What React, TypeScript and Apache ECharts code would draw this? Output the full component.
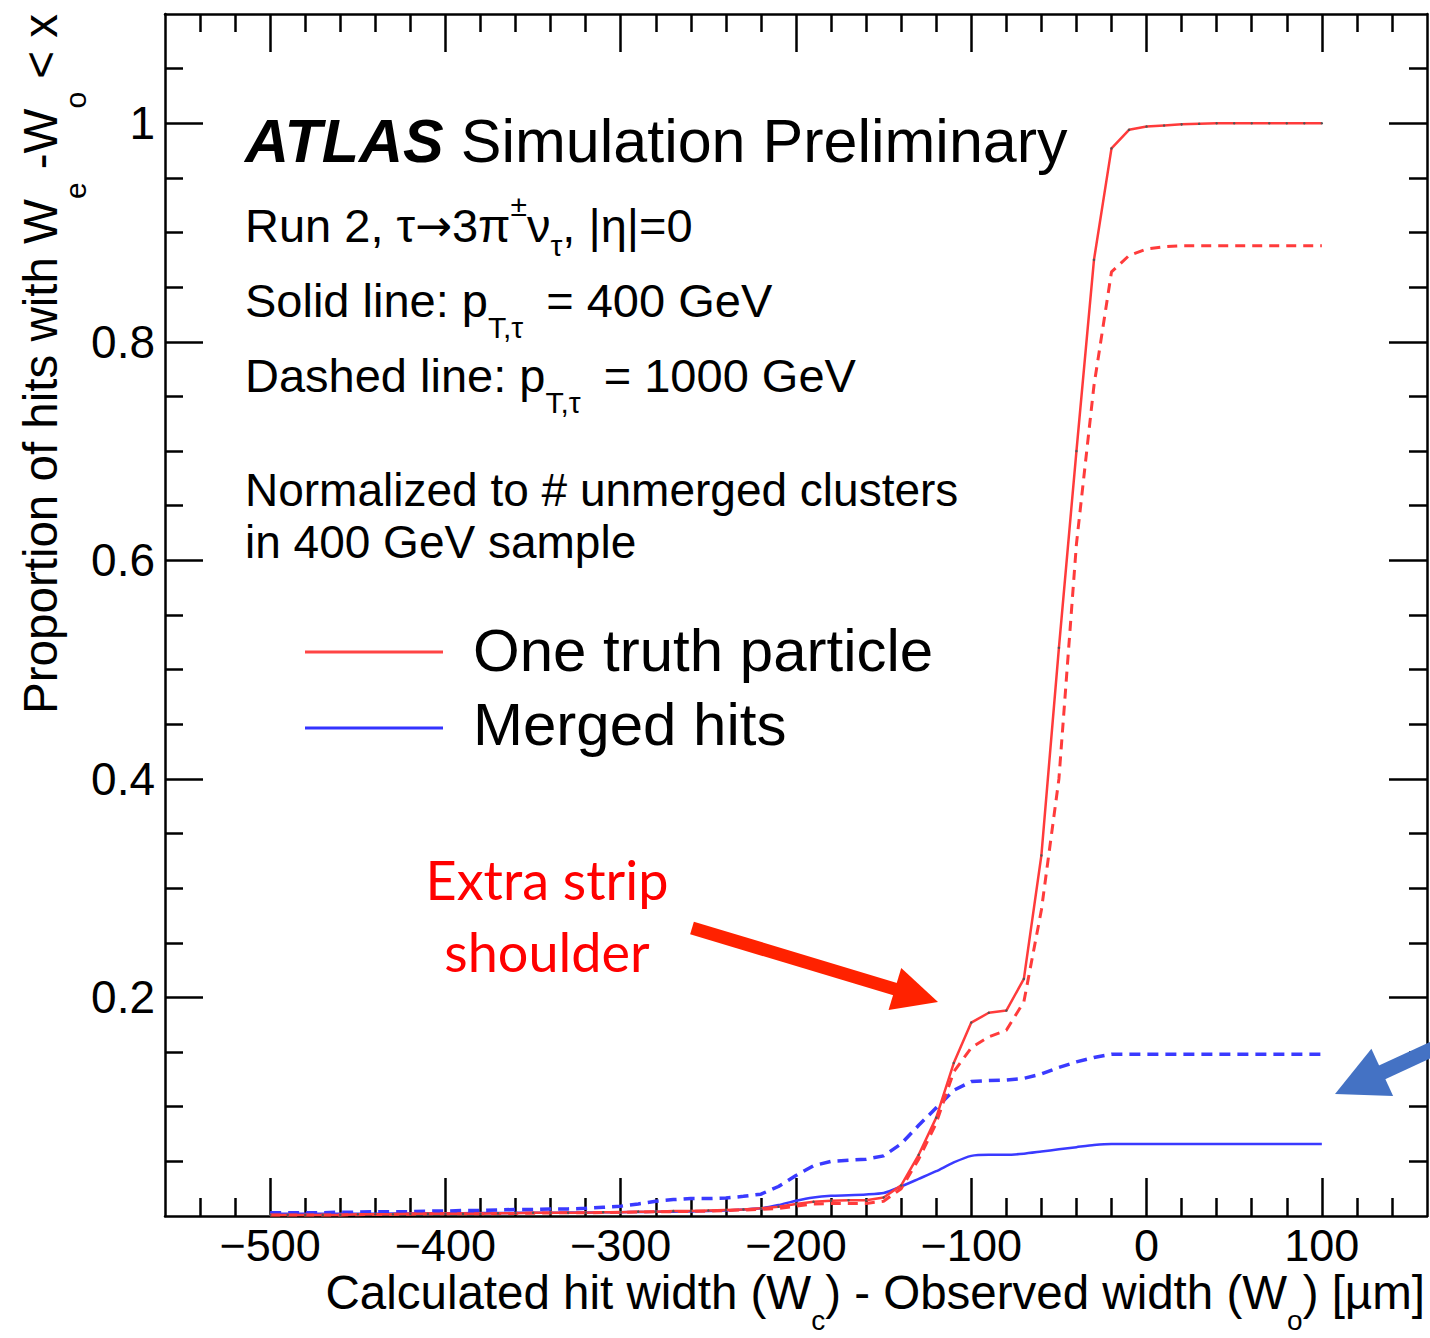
import React, { useEffect, useRef } from 'react';
import * as echarts from 'echarts';

// ---------------- data ----------------
const xValues = [
  -500, -490, -480, -470, -460, -450, -440, -430, -420, -410,
  -400, -390, -380, -370, -360, -350, -340, -330, -320, -310,
  -300, -290, -280, -270, -260, -250, -240, -230, -220, -210,
  -200, -190, -180, -170, -160, -150, -140, -130, -120, -110,
  -100, -90, -80, -70, -60, -50, -40, -30, -20, -10,
  0, 10, 20, 30, 40, 50, 60, 70, 80, 90,
  100,
];

// One truth particle, pT = 400 GeV (solid red)
const oneTruth400 = [
  0.001, 0.001, 0.001, 0.001, 0.001, 0.0015, 0.0015, 0.0015, 0.002, 0.002,
  0.002, 0.002, 0.002, 0.0025, 0.0025, 0.003, 0.003, 0.003, 0.003, 0.0035,
  0.0035, 0.004, 0.004, 0.0045, 0.0045, 0.005, 0.0055, 0.006, 0.007, 0.0085,
  0.011, 0.013, 0.014, 0.0145, 0.0145, 0.017, 0.028, 0.056, 0.09, 0.14,
  0.177, 0.186, 0.188, 0.217, 0.33, 0.52, 0.7, 0.875, 0.977, 0.994,
  0.997, 0.998, 0.999, 0.9995, 1, 1, 1, 1, 1, 1,
  1,
];

// One truth particle, pT = 1000 GeV (dashed red)
const oneTruth1000 = [
  0.001, 0.001, 0.001, 0.001, 0.001, 0.0012, 0.0014, 0.0015, 0.0017, 0.002,
  0.002, 0.002, 0.002, 0.0022, 0.0024, 0.0026, 0.0028, 0.003, 0.003, 0.0032,
  0.0034, 0.0036, 0.0038, 0.004, 0.0042, 0.0045, 0.005, 0.0055, 0.006, 0.007,
  0.009, 0.011, 0.0115, 0.0115, 0.0115, 0.0135, 0.025, 0.052, 0.085, 0.132,
  0.154, 0.164, 0.17, 0.196, 0.28, 0.4, 0.615, 0.76, 0.864, 0.879,
  0.885, 0.887, 0.888, 0.888, 0.888, 0.888, 0.888, 0.888, 0.888, 0.888,
  0.888,
];

// Merged hits, pT = 400 GeV (solid blue)
const merged400 = [
  0.002, 0.002, 0.002, 0.002, 0.002, 0.002, 0.002, 0.0022, 0.0024, 0.0025,
  0.0025, 0.0026, 0.0027, 0.0028, 0.0029, 0.003, 0.003, 0.0031, 0.0032, 0.0034,
  0.0035, 0.0036, 0.0038, 0.004, 0.0042, 0.0045, 0.005, 0.006, 0.007, 0.01,
  0.014, 0.017, 0.0185, 0.019, 0.0197, 0.021, 0.027, 0.034, 0.041, 0.049,
  0.055, 0.056, 0.056, 0.057, 0.059, 0.061, 0.063, 0.065, 0.066, 0.066,
  0.066, 0.066, 0.066, 0.066, 0.066, 0.066, 0.066, 0.066, 0.066, 0.066,
  0.066,
];

// Merged hits, pT = 1000 GeV (dashed blue)
const merged1000 = [
  0.003, 0.003, 0.003, 0.003, 0.0035, 0.0035, 0.004, 0.004, 0.004, 0.0045,
  0.0045, 0.005, 0.005, 0.0055, 0.006, 0.006, 0.0065, 0.0065, 0.007, 0.008,
  0.009, 0.011, 0.0135, 0.015, 0.016, 0.016, 0.0165, 0.018, 0.02, 0.027,
  0.037, 0.046, 0.05, 0.051, 0.052, 0.055, 0.066, 0.083, 0.099, 0.115,
  0.123, 0.124, 0.1245, 0.126, 0.13, 0.136, 0.141, 0.145, 0.148, 0.148,
  0.148, 0.148, 0.148, 0.148, 0.148, 0.148, 0.148, 0.148, 0.148, 0.148,
  0.148,
];

const xMajorTicks = [-500, -400, -300, -200, -100, 0, 100];
const xMinorTicks = [
  -540, -520, -480, -460, -440, -420, -380, -360, -340, -320,
  -280, -260, -240, -220, -180, -160, -140, -120, -80, -60,
  -40, -20, 20, 40, 60, 80, 120, 140,
];
const yMajorTicks = [0.2, 0.4, 0.6, 0.8, 1];
const yMinorTicks = [
  0.05, 0.1, 0.15, 0.25, 0.3, 0.35, 0.45, 0.5, 0.55, 0.65,
  0.7, 0.75, 0.85, 0.9, 0.95, 1.05,
];

const X_MIN = -560;
const X_MAX = 160;
const Y_MIN = 0;
const Y_MAX = 1.1;

// ---------------- styling helpers ----------------
const FONT = "'Liberation Sans', Arial, Helvetica, sans-serif";
const SYM_FONT = "'DejaVu Sans', sans-serif";
const BLACK = '#000';

const pairs = (ys: number[]) => xValues.map((x, i) => [x, ys[i]]);

const fmtX = (v: number) => (v < 0 ? '\u2212' + Math.abs(v) : String(v));
const fmtY = (v: number) => (Math.abs(v - 1) < 1e-9 ? '1' : v.toFixed(1));

function xAxisPair(position: 'bottom' | 'top', withLabels: boolean) {
  return [
    {
      type: 'value',
      gridIndex: 0,
      position,
      min: X_MIN,
      max: X_MAX,
      axisLine: { show: true, onZero: false, lineStyle: { color: BLACK, width: 2.5 } },
      axisTick: {
        show: true,
        inside: true,
        length: 38,
        customValues: xMajorTicks,
        lineStyle: { color: BLACK, width: 2.5 },
      },
      axisLabel: withLabels
        ? {
            show: true,
            customValues: xMajorTicks,
            formatter: fmtX,
            fontSize: 45,
            lineHeight: 30,
            fontFamily: FONT,
            color: BLACK,
            margin: 14,
          }
        : { show: false },
      splitLine: { show: false },
    },
    {
      type: 'value',
      gridIndex: 0,
      position,
      min: X_MIN,
      max: X_MAX,
      axisLine: { show: false, onZero: false },
      axisTick: {
        show: true,
        inside: true,
        length: 18,
        customValues: xMinorTicks,
        lineStyle: { color: BLACK, width: 2.5 },
      },
      axisLabel: { show: false },
      splitLine: { show: false },
    },
  ];
}

function yAxisPair(position: 'left' | 'right', withLabels: boolean) {
  return [
    {
      type: 'value',
      gridIndex: 0,
      position,
      min: Y_MIN,
      max: Y_MAX,
      axisLine: { show: true, onZero: false, lineStyle: { color: BLACK, width: 2.5 } },
      axisTick: {
        show: true,
        inside: true,
        length: 38,
        customValues: yMajorTicks,
        lineStyle: { color: BLACK, width: 2.5 },
      },
      axisLabel: withLabels
        ? {
            show: true,
            customValues: yMajorTicks,
            formatter: fmtY,
            fontSize: 46,
            fontFamily: FONT,
            color: BLACK,
            margin: 10,
          }
        : { show: false },
      splitLine: { show: false },
    },
    {
      type: 'value',
      gridIndex: 0,
      position,
      min: Y_MIN,
      max: Y_MAX,
      axisLine: { show: false, onZero: false },
      axisTick: {
        show: true,
        inside: true,
        length: 18,
        customValues: yMinorTicks,
        lineStyle: { color: BLACK, width: 2.5 },
      },
      axisLabel: { show: false },
      splitLine: { show: false },
    },
  ];
}

// rich styles
const tok = (
  fontSize: number,
  lineHeight: number,
  va: string,
  family: string = FONT,
  padding: number[] = [0, 0, 0, 0]
) => ({
  fontSize,
  fontFamily: family,
  fill: BLACK,
  lineHeight,
  verticalAlign: va,
  padding,
});

function richText(x: number, y: number, text: string, rich: any) {
  return {
    type: 'text',
    x,
    y,
    z: 10,
    style: {
      text,
      rich,
      fontFamily: FONT,
      fill: BLACK,
      align: 'left',
      verticalAlign: 'top',
    },
  };
}

function plainText(x: number, y: number, text: string, fontSize: number, lineHeight?: number) {
  return {
    type: 'text',
    x,
    y,
    z: 10,
    style: {
      text,
      fontSize,
      fontFamily: FONT,
      fill: BLACK,
      verticalAlign: 'middle',
      ...(lineHeight ? { lineHeight } : {}),
    },
  };
}

function arrow(
  from: [number, number],
  tip: [number, number],
  width: number,
  headLen: number,
  headHalf: number,
  color: string
) {
  const dx = tip[0] - from[0];
  const dy = tip[1] - from[1];
  const len = Math.sqrt(dx * dx + dy * dy);
  const ux = dx / len;
  const uy = dy / len;
  const nx = -uy;
  const ny = ux;
  const bx = tip[0] - headLen * ux;
  const by = tip[1] - headLen * uy;
  return [
    {
      type: 'line',
      z: 20,
      shape: { x1: from[0], y1: from[1], x2: bx + ux * 2, y2: by + uy * 2 },
      style: { stroke: color, lineWidth: width, lineCap: 'butt' },
    },
    {
      type: 'polygon',
      z: 20,
      shape: {
        points: [
          [tip[0], tip[1]],
          [bx + headHalf * nx, by + headHalf * ny],
          [bx - headHalf * nx, by - headHalf * ny],
        ],
      },
      style: { fill: color },
    },
  ];
}

export default function App() {
  const ref = useRef<HTMLDivElement>(null);

  useEffect(() => {
    if (!ref.current) return;
    const chart = echarts.init(ref.current, undefined, { renderer: 'svg' });

    const rich1 = {
      m: tok(47, 70, 'middle'),
      r: tok(44, 70, 'middle', SYM_FONT),
      p: tok(30, 70, 'top'),
      s: tok(30, 70, 'bottom'),
    };
    const rich2 = {
      m: tok(47, 65.5, 'top'),
      s: tok(30, 65.5, 'bottom', FONT, [0, 10, 0, 0]),
    };
    const richX = {
      m: tok(47.5, 66, 'top'),
      s: tok(28, 66, 'bottom'),
    };
    const richY = {
      m: tok(47.5, 74, 'top'),
      s: tok(30, 74, 'bottom'),
    };

    const graphic: any[] = [
      // ATLAS label
      {
        type: 'text',
        x: 245,
        y: 141,
        z: 10,
        style: {
          text: '{a|ATLAS}{b| Simulation Preliminary}',
          rich: {
            a: { fontSize: 61, fontFamily: FONT, fontWeight: 'bold', fontStyle: 'italic', fill: BLACK },
            b: { fontSize: 61, fontFamily: FONT, fill: BLACK },
          },
          fontFamily: FONT,
          fill: BLACK,
          align: 'left',
          verticalAlign: 'middle',
        },
      },
      richText(245, 190, '{m|Run 2, τ}{r|→}{m|3π}{p|±}{m|ν}{s|τ}{m|, |η|=0}', rich1),
      richText(245, 276.5, '{m|Solid line: p}{s|T,τ}{m| = 400 GeV}', rich2),
      richText(245, 351.5, '{m|Dashed line: p}{s|T,τ}{m| = 1000 GeV}', rich2),
      plainText(245, 516, 'Normalized to # unmerged clusters\nin 400 GeV sample', 46, 52),
      // legend
      {
        type: 'line',
        z: 10,
        shape: { x1: 305, y1: 652, x2: 443, y2: 652 },
        style: { stroke: '#ff4444', lineWidth: 3 },
      },
      {
        type: 'line',
        z: 10,
        shape: { x1: 305, y1: 728, x2: 443, y2: 728 },
        style: { stroke: '#3333ff', lineWidth: 3 },
      },
      plainText(473, 650, 'One truth particle', 60),
      plainText(473, 724, 'Merged hits', 60),
      // annotation
      {
        type: 'text',
        x: 547,
        y: 879,
        z: 20,
        style: { text: 'Extra strip', fontSize: 54, fontFamily: 'Lato, sans-serif', fill: '#ff0000', align: 'center', verticalAlign: 'middle' },
      },
      {
        type: 'text',
        x: 547,
        y: 951,
        z: 20,
        style: { text: 'shoulder', fontSize: 54, fontFamily: 'Lato, sans-serif', fill: '#ff0000', align: 'center', verticalAlign: 'middle' },
      },
      ...arrow([692, 928], [938, 1002], 13, 45, 22, '#ff2200'),
      ...arrow([1470, 1032], [1335, 1094], 15, 52, 26, '#4472c4'),
      // axis titles
      {
        type: 'text',
        x: 1425,
        y: 1268,
        z: 10,
        style: {
          text: '{m|Calculated hit width (W}{s|c}{m|) - Observed width (W}{s|o}{m|) [µm]}',
          rich: richX,
          fontFamily: FONT,
          fill: BLACK,
          align: 'right',
          verticalAlign: 'top',
        },
      },
      {
        type: 'text',
        x: 16,
        y: 14,
        z: 10,
        rotation: Math.PI / 2,
        style: {
          text: '{m|Proportion of hits with W}{s|e}{m| -W}{s|o}{m| < x}',
          rich: richY,
          fontFamily: FONT,
          fill: BLACK,
          align: 'right',
          verticalAlign: 'top',
        },
      },
    ];

    const option: any = {
      animation: false,
      backgroundColor: '#fff',
      grid: { left: 165, top: 14, width: 1262, height: 1202, containLabel: false },
      xAxis: [...xAxisPair('bottom', true), ...xAxisPair('top', false)],
      yAxis: [...yAxisPair('left', true), ...yAxisPair('right', false)],
      series: [
        {
          name: 'Merged hits (1000 GeV)',
          type: 'line',
          xAxisIndex: 0,
          yAxisIndex: 0,
          data: pairs(merged1000),
          showSymbol: false,
          symbol: 'none',
          lineStyle: { color: '#3a3aff', width: 3.5, type: [11, 7] },
        },
        {
          name: 'Merged hits (400 GeV)',
          type: 'line',
          xAxisIndex: 0,
          yAxisIndex: 0,
          data: pairs(merged400),
          showSymbol: false,
          symbol: 'none',
          smooth: 0.2,
          lineStyle: { color: '#3a3aff', width: 2.5 },
        },
        {
          name: 'One truth particle (1000 GeV)',
          type: 'line',
          xAxisIndex: 0,
          yAxisIndex: 0,
          data: pairs(oneTruth1000),
          showSymbol: false,
          symbol: 'none',
          lineStyle: { color: '#ff3b3b', width: 3, type: [10, 7] },
        },
        {
          name: 'One truth particle (400 GeV)',
          type: 'line',
          xAxisIndex: 0,
          yAxisIndex: 0,
          data: pairs(oneTruth400),
          symbol: 'circle',
          symbolSize: 2.5,
          showSymbol: true,
          itemStyle: { color: '#555', borderWidth: 0 },
          lineStyle: { color: '#ff3b3b', width: 2.5 },
        },
      ],
      graphic,
    };

    chart.setOption(option);
    return () => chart.dispose();
  }, []);

  return (
    <div
      ref={ref}
      style={{ position: 'absolute', left: 0, top: 0, width: 1430, height: 1338, background: '#fff' }}
    />
  );
}
